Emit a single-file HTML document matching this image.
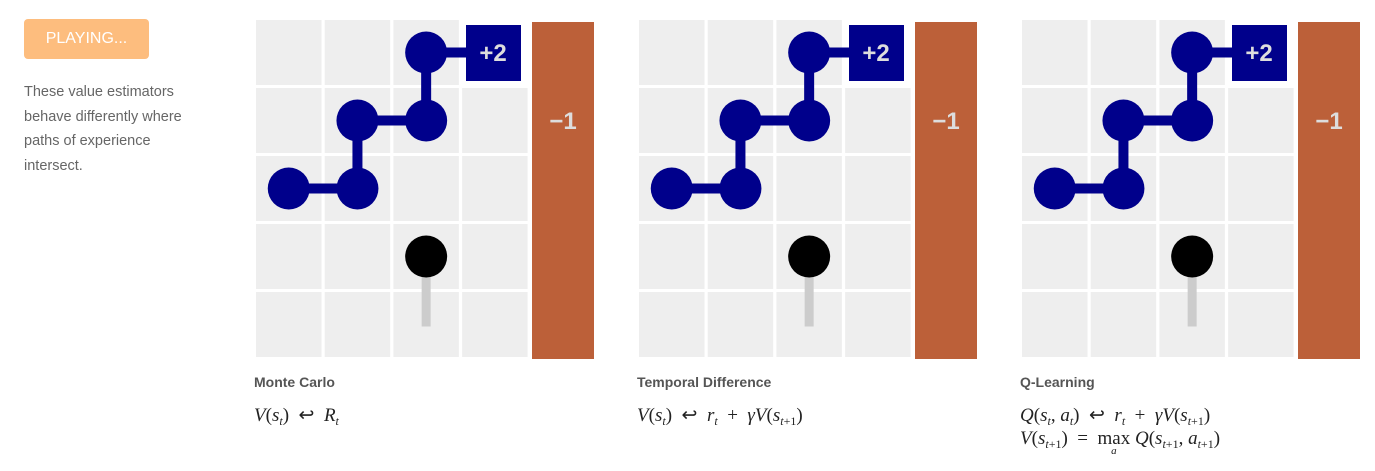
<!DOCTYPE html>
<html><head><meta charset="utf-8"><style>
body{margin:0;width:1375px;height:471px;background:#fff;position:relative;overflow:hidden;font-family:"Liberation Sans",sans-serif}
.btn{position:absolute;left:24px;top:19px;width:125px;height:40px;background:#fdbd7e;border-radius:4px;color:#fff;font-size:16px;line-height:40px;text-align:center}
.desc{position:absolute;left:24px;top:80px;width:180px;font-size:14.5px;line-height:24.5px;color:#666}
.ttl{position:absolute;top:374px;font-size:14px;font-weight:bold;color:#555}
.f{position:absolute;font-family:"Liberation Serif",serif;font-size:19px;color:#222;white-space:nowrap}
.f i{font-style:italic}
sub{font-size:12px;vertical-align:-4px}
.mx{display:inline-block;position:relative}
.mx .a{position:absolute;left:0;right:0;top:17px;text-align:center;font-size:11px;font-style:italic}
</style></head><body>
<div class="btn">PLAYING...</div>
<div class="desc">These value estimators behave differently where paths of experience intersect.</div>
<svg id="s" width="1375" height="471" style="position:absolute;left:0;top:0"></svg>
<div class="ttl" style="left:254px">Monte Carlo</div>
<div class="f" style="left:254px;top:404px"><i>V</i>(<i>s</i><sub><i>t</i></sub>) &nbsp;↩ &nbsp;<i>R</i><sub><i>t</i></sub></div>
<div class="ttl" style="left:637px">Temporal Difference</div>
<div class="f" style="left:637px;top:404px"><i>V</i>(<i>s</i><sub><i>t</i></sub>) &nbsp;↩ &nbsp;<i>r</i><sub><i>t</i></sub> &nbsp;+ &nbsp;<i>γV</i>(<i>s</i><sub><i>t</i>+1</sub>)</div>
<div class="ttl" style="left:1020px">Q-Learning</div>
<div class="f" style="left:1020px;top:404px"><i>Q</i>(<i>s</i><sub><i>t</i></sub>, <i>a</i><sub><i>t</i></sub>) &nbsp;↩ &nbsp;<i>r</i><sub><i>t</i></sub> &nbsp;+ &nbsp;<i>γV</i>(<i>s</i><sub><i>t</i>+1</sub>)</div>
<div class="f" style="left:1020px;top:428px"><i>V</i>(<i>s</i><sub><i>t</i>+1</sub>) &nbsp;= &nbsp;<span class="mx">max<span class="a">a</span></span> <i>Q</i>(<i>s</i><sub><i>t</i>+1</sub>, <i>a</i><sub><i>t</i>+1</sub>)</div>
<script>
const gridOffsets=[256,639,1022];
const pathCols=[0,1,1,2,2,3];
const pathRows=[2,2,1,1,0,0];
const agentCol=2, agentRow=3, trailEndRow=4;
const NS="http://www.w3.org/2000/svg";
const svg=document.getElementById('s');
const px=68.7, py=68, top0=20, cw=65.5, ch=65;
function mk(t,a){const e=document.createElementNS(NS,t);for(const k in a)e.setAttribute(k,a[k]);svg.appendChild(e);return e;}
gridOffsets.forEach((x0,g)=>{
  const cx=c=>x0+c*px+cw/2, cy=r=>top0+r*py+ch/2;
  for(let r=0;r<5;r++)for(let c=0;c<4;c++){
    if(r===0&&c===3)continue;
    const e=mk('rect',{x:x0+c*px,y:top0+r*py,width:cw,height:ch,fill:'#eee'});
    
    
  }
  const bar=mk('rect',{x:x0+276,y:22,width:62,height:337,fill:'#bc6039'});
  
  
  const bt=mk('text',{x:x0+307,y:129,'text-anchor':'middle','font-size':24,'font-weight':'bold',fill:'#ddd','font-family':'Liberation Sans'});
  bt.textContent='−1';
  
  
  const tr=mk('line',{x1:cx(agentCol),y1:cy(agentRow),x2:cx(agentCol),y2:cy(trailEndRow)+2,stroke:'#ccc','stroke-width':9});
  
  
  for(let i=0;i<pathCols.length-1;i++){
    const l=mk('line',{x1:cx(pathCols[i]),y1:cy(pathRows[i]),x2:cx(pathCols[i+1]),y2:cy(pathRows[i+1]),stroke:'#00008b','stroke-width':10});
    
    
  }
  const rb=mk('rect',{x:x0+210,y:25,width:55,height:56,fill:'#00008b'});
  
  
  const rt=mk('text',{x:x0+237,y:61,'text-anchor':'middle','font-size':24,'font-weight':'bold',fill:'#ddd','font-family':'Liberation Sans'});
  rt.textContent='+2';
  
  
  for(let i=0;i<pathCols.length-1;i++){
    const c=mk('circle',{cx:cx(pathCols[i]),cy:cy(pathRows[i]),r:21,fill:'#00008b'});
    
    
  }
  const a=mk('circle',{cx:cx(agentCol),cy:cy(agentRow),r:21,fill:'#000'});
  
  
});
</script>
</body></html>
